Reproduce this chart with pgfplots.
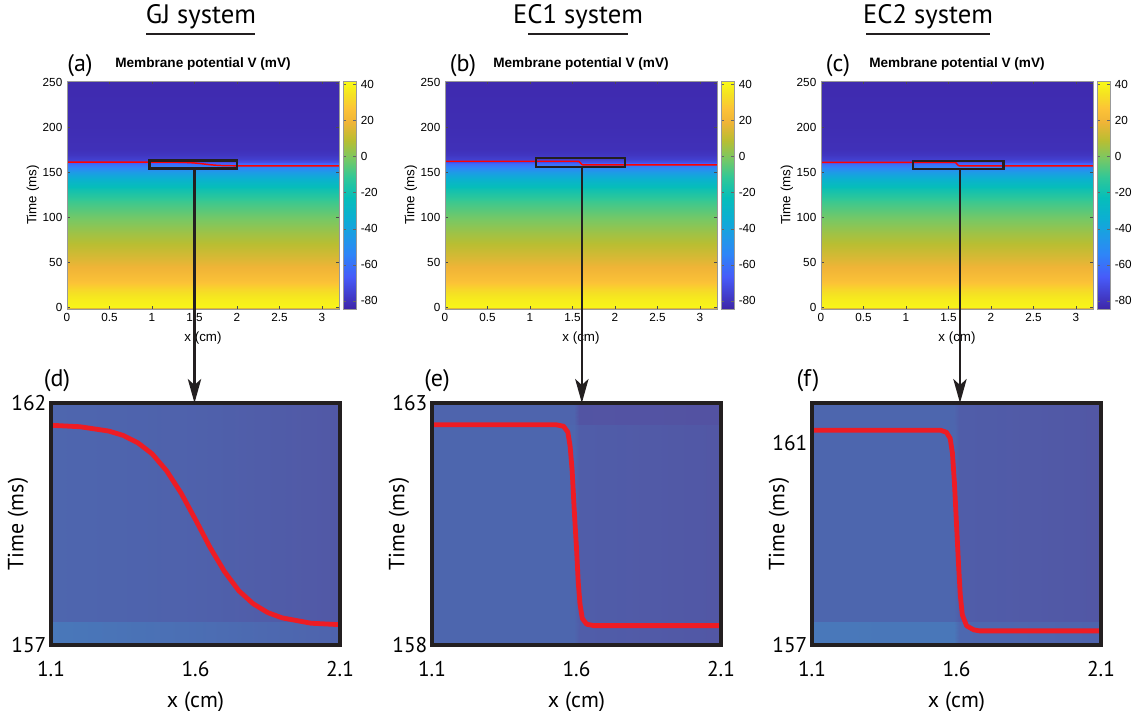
\documentclass[border=0pt]{standalone}
\usepackage{fontspec}
\setmainfont{Liberation Sans}
\newfontfamily\myr{PT Sans}
\usepackage{pgfplots}
\pgfplotsset{compat=1.18}
\usepackage{pgfplotstable}
\usetikzlibrary{arrows.meta}

\definecolor{frame}{RGB}{35,31,32}
\definecolor{zred}{RGB}{237,28,36}

% time profile of the membrane potential (same in all three top panels)
\pgfplotstableread{
x t v
0 -2.2 16
3.2 -2.2 16
0 -0.8 16
3.2 -0.8 16
0 0 40
3.2 0 40
0 8 38
3.2 8 38
0 18 33
3.2 18 33
0 30 25
3.2 30 25
0 42 20
3.2 42 20
0 55 15
3.2 55 15
0 68 10
3.2 68 10
0 82 5
3.2 82 5
0 100 -2
3.2 100 -2
0 118 -10
3.2 118 -10
0 132 -20
3.2 132 -20
0 142 -31
3.2 142 -31
0 150 -44
3.2 150 -44
0 156 -55
3.2 156 -55
0 159.5 -61
3.2 159.5 -61
0 161.5 -71
3.2 161.5 -71
0 165 -76
3.2 165 -76
0 170 -79
3.2 170 -79
0 176 -81
3.2 176 -81
0 200 -82
3.2 200 -82
0 252 -83
3.2 252 -83
}\heat

% wave front (red line)
\pgfplotstableread{
x t
0 161.55
1.1 161.54
1.2 161.51
1.3 161.42
1.35 161.33
1.4 161.18
1.45 160.95
1.5 160.60
1.55 160.14
1.6 159.59
1.65 159.02
1.7 158.52
1.75 158.12
1.8 157.85
1.85 157.67
1.9 157.56
2.0 157.45
2.1 157.42
3.2 157.40
}\gj

\pgfplotstableread{
x t
0 162.55
1.53 162.55
1.555 162.52
1.57 162.4
1.578 162.1
1.585 161.6
1.592 160.8
1.6 160.0
1.606 159.3
1.612 158.85
1.62 158.55
1.635 158.43
1.66 158.4
3.2 158.4
}\econe

\pgfplotstableread{
x t
0 161.26
1.545 161.26
1.565 161.22
1.578 161.1
1.586 160.8
1.593 160.2
1.6 159.4
1.607 158.6
1.613 158.0
1.62 157.6
1.635 157.38
1.66 157.3
1.68 157.28
3.2 157.28
}\ectwo

% zoomed background shades
\pgfplotstableread{
x t v
1.1 157 0.95
1.6 157 0.7
2.1 157 0.42
1.1 157.48 0.95
1.6 157.48 0.7
2.1 157.48 0.42
1.1 157.5 0.5
1.6 157.5 0.38
2.1 157.5 0.15
1.1 162 0.5
1.6 162 0.38
2.1 162 0.15
}\bgd

\pgfplotstableread{
x t v
1.1 158 0.5
1.59 158 0.5
1.61 158 0.28
2.1 158 0.12
1.1 162.55 0.5
1.59 162.55 0.5
1.61 162.55 0.28
2.1 162.55 0.12
1.1 162.57 0.45
1.59 162.57 0.45
1.61 162.57 0.05
2.1 162.57 0.0
1.1 163 0.45
1.59 163 0.45
1.61 163 0.05
2.1 163 0.0
}\bge

\pgfplotstableread{
x t v
1.1 157 0.95
1.59 157 0.92
1.61 157 0.55
2.1 157 0.42
1.1 157.46 0.95
1.59 157.46 0.92
1.61 157.46 0.55
2.1 157.46 0.42
1.1 157.48 0.5
1.59 157.48 0.5
1.61 157.48 0.28
2.1 157.48 0.12
1.1 161.8 0.5
1.59 161.8 0.5
1.61 161.8 0.28
2.1 161.8 0.12
}\bgf

\pgfplotsset{
  colormap={zoomblue}{rgb255(0cm)=(83,82,162) rgb255(1cm)=(72,122,187)},
  colormap={parula}{rgb255(0cm)=(62,38,168) rgb255(14cm)=(71,91,249)
    rgb255(24cm)=(46,133,248) rgb255(32cm)=(30,155,230) rgb255(40cm)=(12,175,210)
    rgb255(49cm)=(6,190,185) rgb255(58cm)=(50,200,150) rgb255(66cm)=(120,200,100)
    rgb255(74cm)=(185,190,50) rgb255(82cm)=(240,180,55) rgb255(88cm)=(252,195,55)
    rgb255(94cm)=(245,225,35) rgb255(100cm)=(249,251,21)},
  topax/.style={
    scale only axis, width=204pt, height=171pt,
    xmin=0, xmax=3.2, ymin=-2.2, ymax=252, enlargelimits=false,
    axis on top,
    xtick={0,0.5,...,3}, ytick={0,50,...,250},
    tick align=inside, major tick length=2.5pt,
    tick style={black!70, thin},
    axis line style={black!40, thin},
    tick label style={font=\fontsize{8.8}{10}\selectfont},
    /pgf/number format/assume math mode=true,
    xlabel={x (cm)}, ylabel={Time (ms)},
    label style={font=\fontsize{10}{11}\selectfont},
    xlabel style={at={(axis description cs:0.5,-0.128)}, anchor=center},
    ylabel style={at={(axis description cs:-0.125,0.5)}, anchor=center},
    title={\bfseries Membrane potential V (mV)},
    title style={at={(axis description cs:0.5,1)}, anchor=center, yshift=6.75pt,
      font=\fontsize{10.2}{11}\selectfont},
    colormap name=parula, point meta min=-84.5, point meta max=42,
    colorbar,
    colorbar style={at={(parent axis.north east)}, anchor=north west,
      xshift=-5.5pt, width=9.75pt,
      ytick={-80,-60,...,40},
      tick align=inside, major tick length=2pt,
      tick style={black!60, thin},
      axis line style={black!40, thin},
      yticklabel style={font=\fontsize{8.8}{10}\selectfont,
        /pgf/number format/assume math mode=true}},
  },
  botax/.style={
    scale only axis, width=216.75pt, height=181.5pt,
    xmin=1.1, xmax=2.1, enlargelimits=false,
    axis on top,
    xtick={1.1,1.6,2.1},
    major tick length=0pt,
    axis line style={line width=3.4pt, draw=frame, line join=miter},
    xticklabel style={/pgf/number format/fixed, /pgf/number format/fixed zerofill,
      /pgf/number format/precision=1, yshift=-9pt},
    tick label style={font=\myr\fontsize{16}{18}\selectfont},
    /pgf/number format/assume math mode=true,
    xlabel={x (cm)}, ylabel={Time (ms)},
    label style={font=\myr\fontsize{16.5}{18}\selectfont},
    xlabel style={at={(axis description cs:0.5,-0.234)}, anchor=center},
    ylabel style={at={(axis description cs:-0.114,0.5)}, anchor=center},
    colormap name=zoomblue, point meta min=0, point meta max=1,
  },
  heat/.style={surf, shader=interp, mesh/cols=2, point meta=explicit},
  front/.style={red, line width=1.1pt, line join=round},
  zfront/.style={zred, line width=3.6pt, line join=round},
  box/.style={draw=frame, line width=1.9pt},
}

\begin{document}
\begin{tikzpicture}
\begin{scope}[x=0.75pt, y=-0.75pt]
% ---------- column titles ----------
\foreach \cx/\txt/\ul/\ur in {201/GJ system/146/255, 578/EC1 system/528/628, 928/EC2 system/866/990}{
  \node[font=\myr\fontsize{20}{22}\selectfont] at (\cx,17) {\txt};
  \draw[line width=1.5pt, frame] (\ul,34) -- (\ur,34);
}
\end{scope}

% ---------- top panels ----------
\begin{axis}[topax, at={(50.25pt,-231.75pt)}, anchor=south west]
  \addplot[heat] table[x=x, y=t, meta=v] {\heat};
  \addplot[front] table[x=x, y=t] {\gj};
  \addplot[box] coordinates {(0.97,154.5) (2.0,154.5) (2.0,163.5) (0.97,163.5)} -- cycle;
  \coordinate (A) at (axis cs:1.5,154.5);
\end{axis}

\begin{axis}[topax, at={(333.75pt,-231.75pt)}, anchor=south west]
  \addplot[heat] table[x=x, y=t, meta=v] {\heat};
  \addplot[front] table[x=x, y=t] {\econe};
  \addplot[box] coordinates {(1.07,156) (2.12,156) (2.12,166) (1.07,166)} -- cycle;
  \coordinate (B) at (axis cs:1.61,156);
\end{axis}

\begin{axis}[topax, at={(615.75pt,-231.75pt)}, anchor=south west]
  \addplot[heat] table[x=x, y=t, meta=v] {\heat};
  \addplot[front] table[x=x, y=t] {\ectwo};
  \addplot[box] coordinates {(1.08,154) (2.15,154) (2.15,163) (1.08,163)} -- cycle;
  \coordinate (C) at (axis cs:1.635,154);
\end{axis}

% ---------- zoomed panels ----------
\begin{axis}[botax, at={(38.25pt,-483.75pt)}, anchor=south west, ymin=157, ymax=162, ytick={157,162}]
  \addplot[surf, shader=interp, mesh/cols=3, point meta=explicit] table[x=x, y=t, meta=v] {\bgd};
  \addplot[zfront] table[x=x, y=t] {\gj};
  \coordinate (D) at (axis cs:1.6,162);
\end{axis}

\begin{axis}[botax, at={(324pt,-483.75pt)}, anchor=south west, ymin=158, ymax=163, ytick={158,163}]
  \addplot[surf, shader=interp, mesh/cols=4, point meta=explicit] table[x=x, y=t, meta=v] {\bge};
  \addplot[zfront] table[x=x, y=t] {\econe};
  \coordinate (E) at (axis cs:1.6,163);
\end{axis}

\begin{axis}[botax, at={(609pt,-483.75pt)}, anchor=south west, ymin=157, ymax=161.8, ytick={157,161}]
  \addplot[surf, shader=interp, mesh/cols=4, point meta=explicit] table[x=x, y=t, meta=v] {\bgf};
  \addplot[zfront] table[x=x, y=t] {\ectwo};
  \coordinate (F) at (axis cs:1.6,161.8);
\end{axis}

% ---------- zoom arrows ----------
\foreach \s/\d in {A/D, B/E, C/F}{
  \draw[frame, line width=1.9pt, -{Stealth[length=18pt, width=10pt, inset=4.5pt]}]
    (\s) -- (\s |- \d);
}

% ---------- panel letters + fixed page size ----------
\begin{scope}[x=0.75pt, y=-0.75pt]
\foreach \px/\py/\lt in {80/66/a, 463/66/b, 838/66/c, 57/381/d, 437/381/e, 808/381/f}{
  \node[font=\myr\fontsize{18}{20}\selectfont] at (\px,\py) {(\lt)};
}
\pgfresetboundingbox
\useasboundingbox (0,0) rectangle (1133,711);
\end{scope}
\end{tikzpicture}
\end{document}
